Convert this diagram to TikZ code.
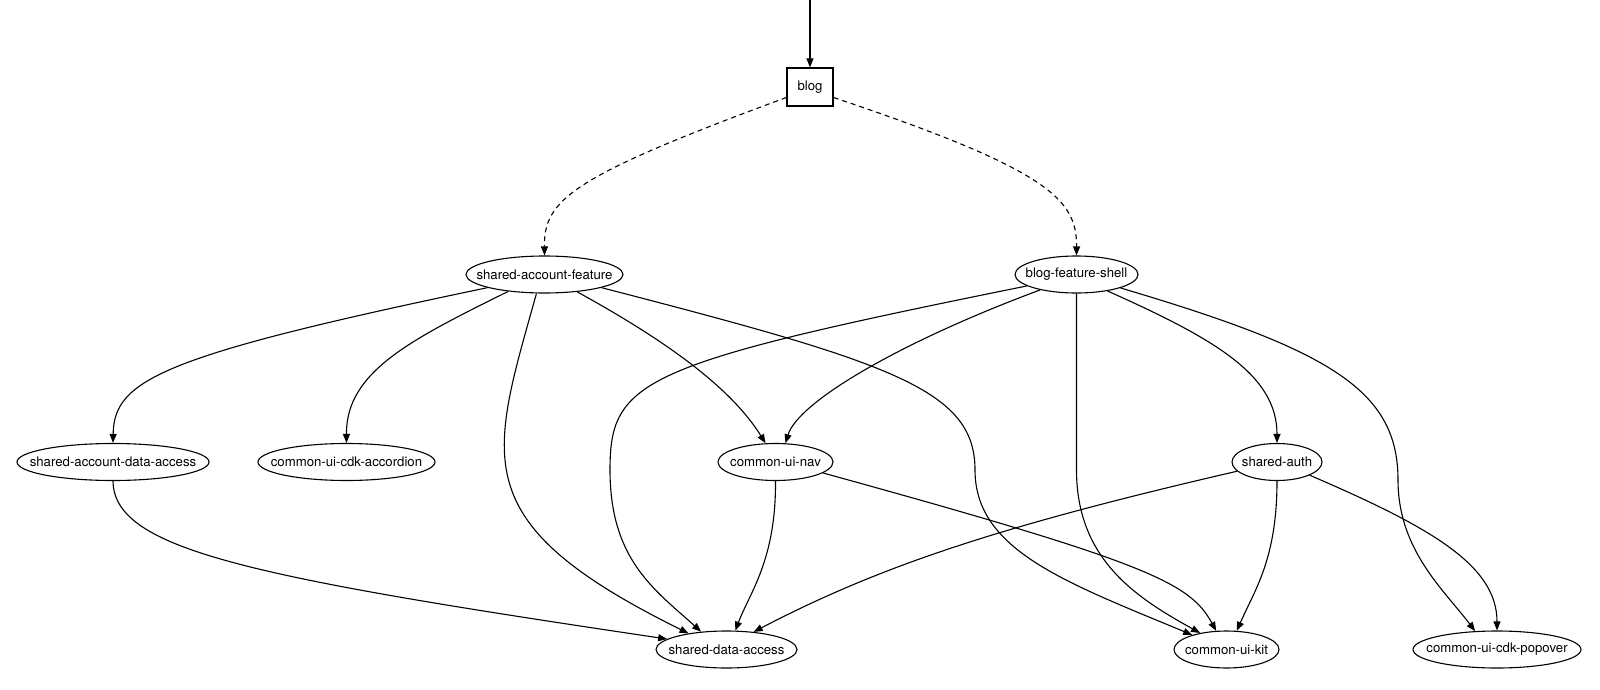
\documentclass[tikz,border=0pt]{standalone}
\usepackage{fontspec}
\setmainfont{TeX Gyre Heros}
\usepackage{tikz}
\usetikzlibrary{arrows.meta,shapes.geometric}

% the ellipse size comes from minimum width, not from the label
\newcommand{\modlabel}[1]{\makebox[0pt]{#1}}

\begin{document}
\begin{tikzpicture}[
  x=1pt,y=-1pt,
  font=\fontsize{13.2}{15}\selectfont,
  >={Triangle[length=9pt,width=7pt]},
  app/.style={draw,line width=1.2pt,minimum width=46pt,minimum height=38pt,inner sep=0pt},
  lib/.style={draw,ellipse,line width=1.1pt,inner sep=0pt,minimum height=37pt,minimum width=#1},
  dep/.style={->,line width=1.1pt},
  lazy/.style={dep,dash pattern=on 5pt off 4pt}
]
\useasboundingbox (0,0) rectangle (1600,690);

% app and its two lazy feature libraries
\coordinate (entry) at (810,0);
\node[app] (blog) at (810,87) {blog};
\node[lib=157pt] (acctfeat) at (544.5,274.5) {\modlabel{shared-account-feature}};
\node[lib=123pt] (shell) at (1076.5,274.5) {\modlabel{blog-feature-shell}};

% middle row
\node[lib=192pt] (acctdata) at (113,462) {\modlabel{shared-account-data-access}};
\node[lib=177pt] (accord) at (346.5,462) {\modlabel{common-ui-cdk-accordion}};
\node[lib=115pt] (nav) at (775.5,462) {\modlabel{common-ui-nav}};
\node[lib=90pt] (auth) at (1277,462) {\modlabel{shared-auth}};

% leaves
\node[lib=141pt] (data) at (726.5,649.5) {\modlabel{shared-data-access}};
\node[lib=105pt] (kit) at (1226.5,649.5) {\modlabel{common-ui-kit}};
\node[lib=168pt] (popover) at (1497,649.5) {\modlabel{common-ui-cdk-popover}};

\draw[dep] (entry) -- (blog);
\draw[lazy] (blog.204) .. controls (570,177) and (544,200) .. (acctfeat.90);
\draw[lazy] (blog.336) .. controls (1050,170) and (1077,200) .. (shell.90);

% shared-account-feature
\draw[dep] (acctfeat.193) .. controls (160,356) and (114,380) .. (acctdata.90);
\draw[dep] (acctfeat.205) .. controls (410,340) and (346,372) .. (accord.90);
\draw[dep] (acctfeat.247) .. controls (490,460) and (463,522) .. (data.157);
\draw[dep] (acctfeat.332) .. controls (674,345) and (733,391) .. (nav.118);
\draw[dep] (acctfeat.347) .. controls (893,363) and (975,390) .. (975,470)
  .. controls (975,550) and (1065,582) .. (kit.157);

% blog-feature-shell
\draw[dep] (shell.193) .. controls (640,364) and (610,380) .. (610,470)
  .. controls (610,560) and (655,590) .. (data.145);
\draw[dep] (shell.203) .. controls (900,342) and (798,402) .. (nav.62);
\draw[dep] (shell.270) -- (1076.5,470) .. controls (1076.5,560) and (1137,598) .. (kit.148);
\draw[dep] (shell.332) .. controls (1215,339) and (1277,375) .. (auth.90);
\draw[dep] (shell.343) .. controls (1330,350) and (1398,390) .. (1398,480)
  .. controls (1398,550) and (1444,590) .. (popover.140);

% second level
\draw[dep] (acctdata.270) .. controls (114,550) and (250,577) .. (data.170);
\draw[dep] (nav.270) .. controls (776,560) and (750,592) .. (data.65);
\draw[dep] (nav.347) .. controls (1150,563) and (1190,583) .. (kit.119);
\draw[dep] (auth.193) .. controls (1000,526) and (880,566) .. (data.33);
\draw[dep] (auth.270) .. controls (1277,560) and (1254,591) .. (kit.61);
\draw[dep] (auth.338) .. controls (1430,527) and (1497,565) .. (popover.90);

\end{tikzpicture}
\end{document}
